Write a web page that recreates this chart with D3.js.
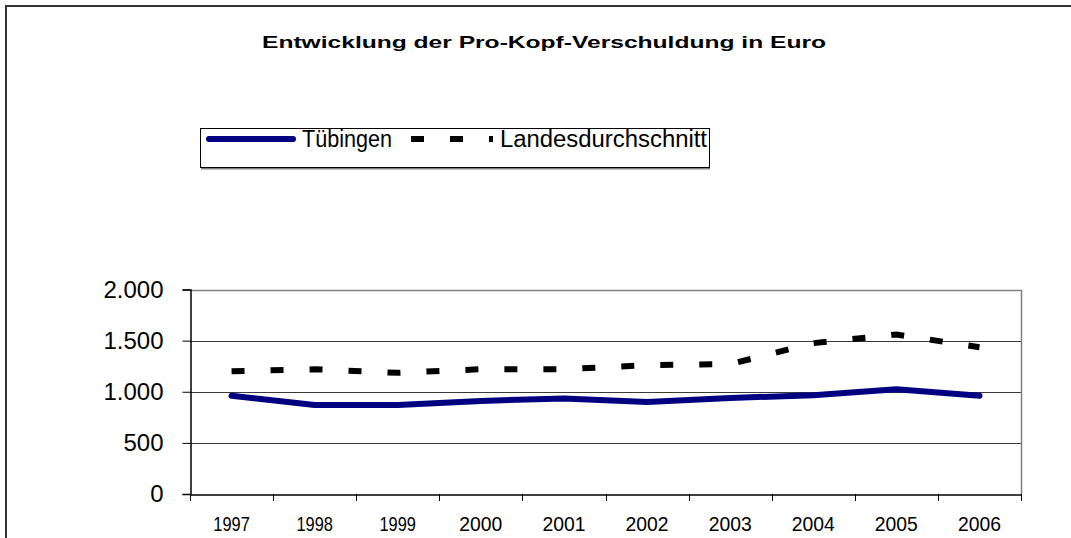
<!DOCTYPE html>
<html>
<head>
<meta charset="utf-8">
<script src="https://cdn.jsdelivr.net/npm/d3@7"></script>
<style>
  html, body { margin: 0; padding: 0; background: #fff; }
  svg { display: block; }
  text { font-family: "Liberation Sans", Arial, sans-serif; fill: #000; }
</style>
</head>
<body>
<svg id="chart" width="1071" height="538"></svg>
<script>
const years = ["1997","1998","1999","2000","2001","2002","2003","2004","2005","2006"];
const tuebingen = [960, 870, 870, 910, 935, 900, 940, 965, 1025, 960];
const landesdurchschnitt = [1200, 1220, 1185, 1220, 1220, 1260, 1270, 1475, 1560, 1435];
const yTicks = [0, 500, 1000, 1500, 2000];
const yTickLabels = ["0", "500", "1.000", "1.500", "2.000"];
const seriesNames = ["Tübingen", "Landesdurchschnitt"];
const titleText = "Entwicklung der Pro-Kopf-Verschuldung in Euro";

const svg = d3.select("#chart");
const W = 1071, H = 538;

// outer frame (clipped at right and bottom)
svg.append("path")
  .attr("d", `M6,${H} L6,6 L${W},6`)
  .attr("fill", "none").attr("stroke", "#333").attr("stroke-width", 2);

// title
svg.append("text")
  .attr("x", 544).attr("y", 48)
  .attr("text-anchor", "middle")
  .attr("font-weight", "bold")
  .attr("font-size", 17)
  .attr("textLength", 564).attr("lengthAdjust", "spacingAndGlyphs")
  .text(titleText);

const plot = { left: 190, right: 1021, top: 289.5, bottom: 494 };

const x = d3.scaleBand().domain(years).range([plot.left, plot.right]).padding(0);
const y = d3.scaleLinear().domain([0, 2000]).range([plot.bottom, plot.top]);

// gridlines
svg.append("g").selectAll("line").data(yTicks.filter(d => d > 0 && d < 2000)).join("line")
  .attr("x1", plot.left).attr("x2", plot.right)
  .attr("y1", d => Math.round(y(d)) + 0.5).attr("y2", d => Math.round(y(d)) + 0.5)
  .attr("stroke", "#3a3a3a").attr("stroke-width", 1);

// plot border top & right (gray)
svg.append("path")
  .attr("d", `M${plot.left},${Math.round(plot.top)+0.5} L${plot.right+0.5},${Math.round(plot.top)+0.5} L${plot.right+0.5},${plot.bottom}`)
  .attr("fill", "none").attr("stroke", "#808080").attr("stroke-width", 1.5);

// y axis
const yAxis = d3.axisLeft(y).tickValues(yTicks).tickSize(8).tickPadding(19)
  .tickFormat((d) => yTickLabels[yTicks.indexOf(d)]);
const gy = svg.append("g").attr("transform", `translate(${plot.left + 0.5},0)`).call(yAxis);
gy.select(".domain").attr("stroke", "#000").attr("stroke-width", 1.5);
gy.selectAll(".tick line").attr("stroke", "#000");
gy.selectAll(".tick text").attr("font-size", 24).attr("font-family", "Liberation Sans, Arial, sans-serif").attr("fill", "#000");

// x axis
const xAxis = d3.axisBottom(x).tickSize(0).tickPadding(0);
const gx = svg.append("g").attr("transform", `translate(0,${plot.bottom + 0.5})`).call(xAxis);
gx.select(".domain").attr("stroke", "#000").attr("stroke-width", 1.5);
gx.selectAll(".tick text").attr("font-size", 20).attr("dy", 0).attr("y", 36)
  .attr("font-family", "Liberation Sans, Arial, sans-serif").attr("fill", "#000")
  .attr("textLength", d => d.startsWith("19") ? 36.5 : 43).attr("lengthAdjust", "spacingAndGlyphs");
// category boundary ticks
const bounds = years.map(d => x(d)).concat([plot.right]);
svg.append("g").selectAll("line").data(bounds).join("line")
  .attr("x1", d => Math.round(d) + 0.5).attr("x2", d => Math.round(d) + 0.5)
  .attr("y1", plot.bottom).attr("y2", plot.bottom + 7)
  .attr("stroke", "#000").attr("stroke-width", 1);

const cx = d => x(d) + x.bandwidth() / 2;

// Landesdurchschnitt dashed
svg.append("path")
  .datum(landesdurchschnitt)
  .attr("fill", "none").attr("stroke", "#000").attr("stroke-width", 6)
  .attr("stroke-dasharray", "13,26").attr("stroke-linecap", "butt")
  .attr("d", d3.line().x((d, i) => cx(years[i])).y(d => y(d)));

// Tübingen solid
svg.append("path")
  .datum(tuebingen)
  .attr("fill", "none").attr("stroke", "#000080").attr("stroke-width", 6)
  .attr("stroke-linecap", "round").attr("stroke-linejoin", "round")
  .attr("d", d3.line().x((d, i) => cx(years[i])).y(d => y(d)));

// legend
const lg = svg.append("g");
const lx0 = 200, lx1 = 709, ly0 = 128, ly1 = 167;
lg.append("line").attr("x1", lx0 + 1).attr("x2", lx1 + 1).attr("y1", ly1 + 1.5).attr("y2", ly1 + 1.5)
  .attr("stroke", "#808080").attr("stroke-width", 2);
lg.append("rect").attr("x", lx0 + 0.5).attr("y", ly0 + 0.5).attr("width", lx1 - lx0).attr("height", ly1 - ly0)
  .attr("fill", "#fff").attr("stroke", "#000").attr("stroke-width", 1);
const ly = 139;
lg.append("line").attr("x1", 209).attr("x2", 293).attr("y1", ly).attr("y2", ly)
  .attr("stroke", "#000080").attr("stroke-width", 6).attr("stroke-linecap", "round");
lg.append("text").attr("x", 302).attr("y", 147).attr("font-size", 23)
  .attr("textLength", 90).attr("lengthAdjust", "spacingAndGlyphs").text(seriesNames[0]);
lg.append("line").attr("x1", 411).attr("x2", 493).attr("y1", ly).attr("y2", ly)
  .attr("stroke", "#000").attr("stroke-width", 6).attr("stroke-dasharray", "13,26");
lg.append("text").attr("x", 500).attr("y", 147).attr("font-size", 23)
  .attr("textLength", 207).attr("lengthAdjust", "spacingAndGlyphs").text(seriesNames[1]);
</script>
</body>
</html>
